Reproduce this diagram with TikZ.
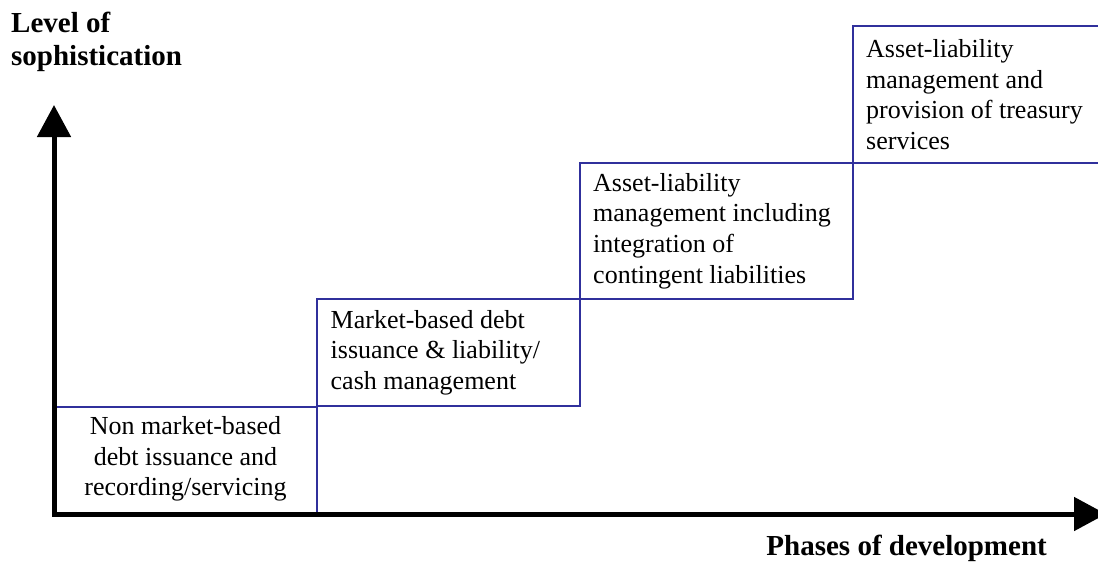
\documentclass[tikz,border=0pt]{standalone}
\usepackage{fontspec}
\setmainfont{Liberation Serif}
\usetikzlibrary{arrows.meta}

\definecolor{boxblue}{RGB}{48,48,156}

\tikzset{
  stagebox/.style={draw=boxblue, line width=2pt, rectangle, inner sep=0pt,
    outer sep=0pt, anchor=north west},
  stagetext/.style={inner sep=0pt, font=\fontsize{26}{30.7}\selectfont},
  axislabel/.style={inner sep=0pt, font=\fontsize{29}{33}\selectfont\bfseries},
  axisline/.style={line width=5pt, line join=miter,
    {Triangle[length=32pt,width=33pt]}-{Triangle[length=32pt,width=33pt]}},
}

\begin{document}
\begin{tikzpicture}[x=1pt,y=-1pt]
\useasboundingbox (0,0) rectangle (1098,563);
\clip (0,0) rectangle (1098,563);

% the four stages, climbing like a staircase
\node[stagebox, minimum width=263pt, minimum height=107pt] (b1) at (54,407) {};
\node[stagebox, minimum width=263pt, minimum height=107pt] (b2) at (317,299) {};
\node[stagebox, minimum width=273pt, minimum height=136pt] (b3) at (580,163) {};
\node[stagebox, minimum width=280pt, minimum height=137pt] (b4) at (853,26) {};

\node[stagetext, align=center] (t1) at ([yshift=1.5pt]b1.center)
  {Non market-based\\debt issuance and\\recording/servicing};
\node[stagetext, align=left, anchor=west] (t2) at ([xshift=13.5pt]b2.west)
  {Market-based debt\\issuance \& liability/\\cash management};
\node[stagetext, align=left, anchor=west] (t3) at ([xshift=13pt]b3.west)
  {Asset-liability\\management including\\integration of\\contingent liabilities};
\node[stagetext, align=left, anchor=west] (t4) at ([xshift=13pt]b4.west)
  {Asset-liability\\management and\\provision of treasury\\services};

% axes
\coordinate (ytip) at (54,105);
\coordinate (origin) at (54,514);
\coordinate (xtip) at (1106,514);
\draw[axisline] (ytip) -- (origin) -- (xtip);

\node[axislabel, align=left, anchor=north west] (ylabel) at (11,12)
  {Level of\\sophistication};
\node[axislabel, anchor=base east] (xlabel) at (1047,555)
  {Phases of development};
\end{tikzpicture}
\end{document}
